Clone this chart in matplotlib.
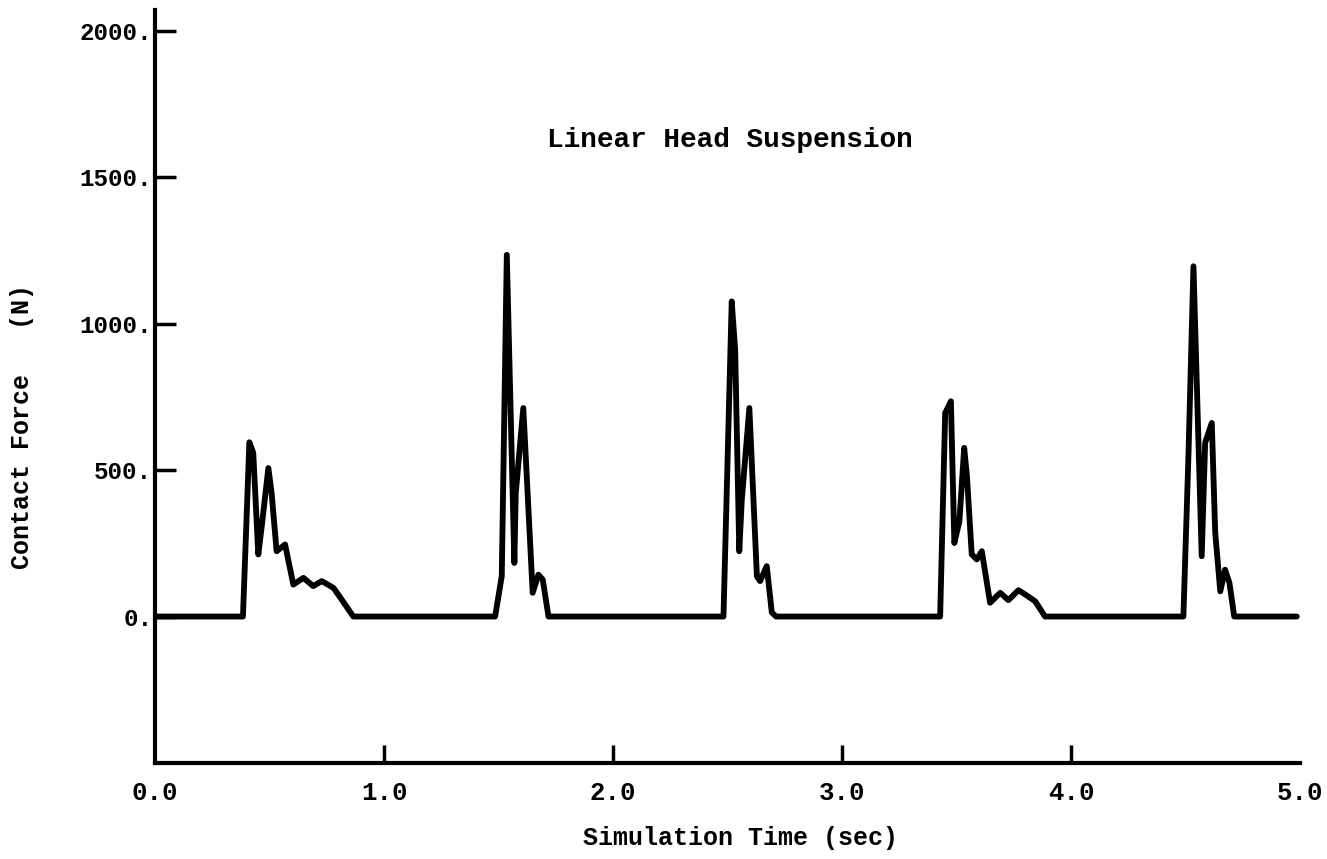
import matplotlib.pyplot as plt
import numpy as np

# contact force samples, one list pair per impact
pulse1_t = [0.0, 0.384, 0.412, 0.429, 0.451, 0.466, 0.495, 0.509, 0.531, 0.568,
            0.604, 0.648, 0.691, 0.728, 0.779, 0.815, 0.866]
pulse1_f = [0, 0, 595, 559, 212, 308, 507, 423, 223, 246,
            109, 132, 104, 121, 98, 58, 0]

pulse2_t = [1.485, 1.514, 1.536, 1.569, 1.575, 1.608, 1.649, 1.674, 1.693, 1.718]
pulse2_f = [0, 138, 1235, 183, 420, 712, 81, 143, 126, 0]

pulse3_t = [2.482, 2.518, 2.533, 2.551, 2.562, 2.595, 2.628, 2.642, 2.671, 2.693, 2.712]
pulse3_f = [0, 1076, 911, 223, 399, 712, 137, 121, 172, 14, 0]

pulse4_t = [3.428, 3.450, 3.475, 3.490, 3.512, 3.533, 3.545, 3.566, 3.588, 3.610,
            3.646, 3.690, 3.726, 3.770, 3.806, 3.843, 3.886]
pulse4_f = [0, 695, 735, 251, 325, 576, 479, 212, 195, 223,
            47, 81, 56, 90, 72, 52, 0]

pulse5_t = [4.490, 4.512, 4.534, 4.570, 4.585, 4.614, 4.629, 4.651, 4.672, 4.691, 4.712, 4.985]
pulse5_f = [0, 547, 1196, 206, 593, 661, 286, 86, 160, 115, 0, 0]

xticks = [0.0, 1.0, 2.0, 3.0, 4.0, 5.0]
xlabels = ['0.0', '1.0', '2.0', '3.0', '4.0', '5.0']
yticks = [0, 500, 1000, 1500, 2000]
ylabels = ['0.', '500.', '1000.', '1500.', '2000.']

t = np.concatenate([pulse1_t, pulse2_t, pulse3_t, pulse4_t, pulse5_t])
f = np.concatenate([pulse1_f, pulse2_f, pulse3_f, pulse4_f, pulse5_f])

plt.rcParams['font.family'] = ['Liberation Mono', 'DejaVu Sans Mono']
plt.rcParams['font.weight'] = 'bold'

fig = plt.figure(figsize=(13.27, 8.59), dpi=100)
ax = fig.add_axes([0.1168, 0.1118, 0.8630, 0.8762])

ax.plot(t, f, color='black', lw=4.2, solid_joinstyle='round', solid_capstyle='round')

ax.set_xlim(0, 5.0)
ax.set_ylim(-500, 2070)

for s in ['top', 'right']:
    ax.spines[s].set_visible(False)
for s in ['left', 'bottom']:
    ax.spines[s].set_linewidth(3)

ax.set_xticks(xticks)
ax.set_xticklabels(xlabels, fontsize=18.5)
ax.set_yticks(yticks)
ax.set_yticklabels(ylabels, fontsize=17.5)
ax.tick_params(axis='x', direction='in', length=13, width=2.5, pad=13)
ax.tick_params(axis='y', direction='in', length=15, width=2.5, pad=2)
ax.xaxis.get_major_ticks()[0].tick1line.set_visible(False)
ax.xaxis.get_major_ticks()[-1].tick1line.set_visible(False)

ax.text(2.51, 1628, 'Linear Head Suspension', ha='center', va='center', fontsize=20)
fig.text(0.5584, 0.0244, 'Simulation Time (sec)', ha='center', va='center', fontsize=18)
fig.text(0.0166, 0.5040, 'Contact Force   (N)', ha='center', va='center',
         rotation=90, fontsize=18)

fig.savefig('out.png', dpi=100)
